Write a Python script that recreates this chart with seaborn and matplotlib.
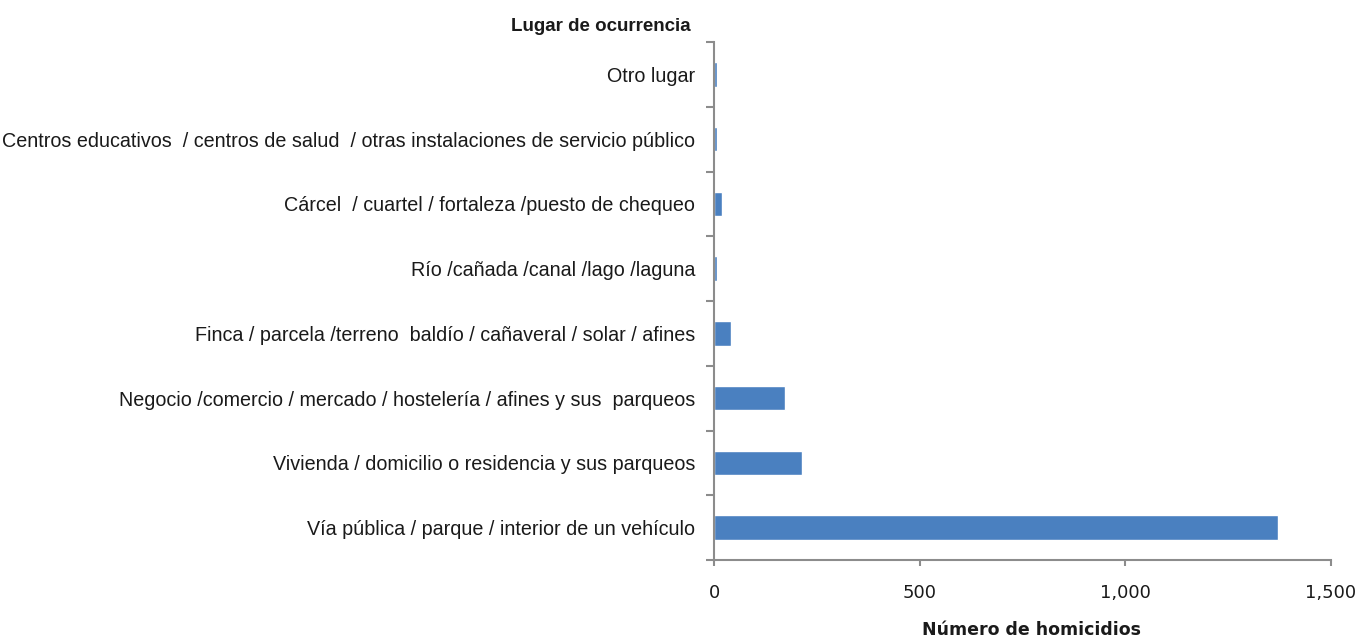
"""
Homicidios por lugar de ocurrencia - horizontal bar chart.
"""
import pandas as pd
import seaborn as sns
import matplotlib.pyplot as plt
from matplotlib.ticker import FuncFormatter, FixedLocator

lugares = [
    "Otro lugar",
    "Centros educativos  / centros de salud  / otras instalaciones de servicio público",
    "Cárcel  / cuartel / fortaleza /puesto de chequeo",
    "Río /cañada /canal /lago /laguna",
    "Finca / parcela /terreno  baldío / cañaveral / solar / afines",
    "Negocio /comercio / mercado / hostelería / afines y sus  parqueos",
    "Vivienda / domicilio o residencia y sus parqueos",
    "Vía pública / parque / interior de un vehículo",
]
homicidios = [7, 7, 20, 7, 41, 173, 214, 1370]
x_ticks = [0, 500, 1000, 1500]

df = pd.DataFrame({"lugar": lugares, "homicidios": homicidios})

sns.set_style("white")
plt.rcParams["font.family"] = ["Liberation Sans", "DejaVu Sans"]

fig = plt.figure(figsize=(13.59, 6.37), dpi=100)
ax = fig.add_axes([0.5254, 0.1209, 0.4540, 0.8131])

sns.barplot(data=df, x="homicidios", y="lugar", orient="h", color="#4A80C0",
            width=0.38, saturation=1, ax=ax)

axis_gray = "#8c8c8c"
ax.set_xlim(0, 1500)
ax.set_ylim(len(lugares) - 0.5, -0.5)
for side in ["top", "right"]:
    ax.spines[side].set_visible(False)
for side in ["left", "bottom"]:
    ax.spines[side].set_color(axis_gray)
    ax.spines[side].set_linewidth(1.5)

ax.xaxis.set_major_locator(FixedLocator(x_ticks))
ax.xaxis.set_major_formatter(FuncFormatter(lambda v, p: f"{int(v):,}"))
ax.tick_params(axis="x", bottom=True, direction="out", length=4, width=1.5,
               color=axis_gray, pad=13)
for lbl in ax.get_xticklabels():
    lbl.set_family(["DejaVu Sans"])
    lbl.set_fontsize(13)
    lbl.set_color("#1a1a1a")

# category boundary ticks (Excel style), labels without tick marks
ax.yaxis.set_minor_locator(FixedLocator([i - 0.5 for i in range(len(lugares) + 1)]))
ax.tick_params(axis="y", which="minor", left=True, direction="out", length=6,
               width=1.5, color=axis_gray)
ax.tick_params(axis="y", which="major", left=False, length=0, labelsize=14.2, pad=13.5,
               labelcolor="#1a1a1a")

ax.set_ylabel("")
ax.set_xlabel("Número de homicidios", fontsize=12.5, fontweight="bold",
              family=["DejaVu Sans"], labelpad=14, color="#1a1a1a")
ax.xaxis.set_label_coords(0.515, -0.118)
fig.text(0.508, 0.958, "Lugar de ocurrencia", ha="right", va="center",
         fontsize=13.5, fontweight="bold", color="#1a1a1a")

fig.savefig("out.png", dpi=100)
